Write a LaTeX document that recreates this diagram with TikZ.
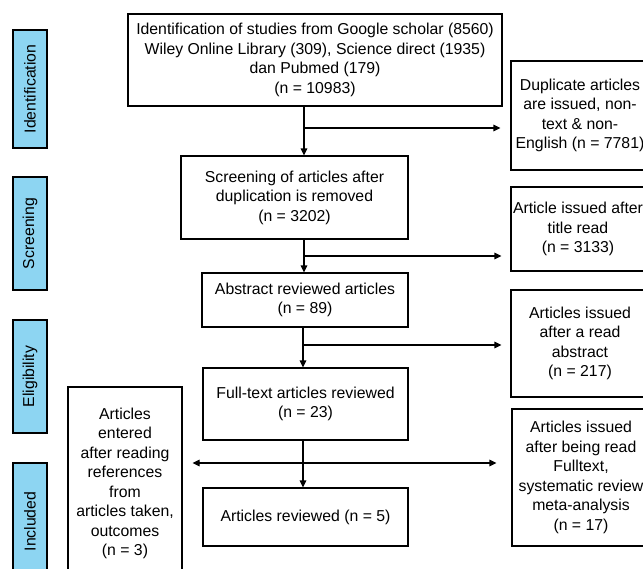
\documentclass[tikz,border=0pt]{standalone}
\usepackage{fontspec}
\setmainfont{Liberation Sans}
\usetikzlibrary{arrows.meta}

\definecolor{stageblue}{HTML}{8DD5F2}

\tikzset{
    box/.style={draw, line width=1.1pt, align=center, inner sep=0pt,
        font=\fontsize{15.8}{19.5}\selectfont},
    stage/.style={draw, line width=1.1pt, fill=stageblue, rotate=90,
        minimum height=34, inner sep=0pt, font=\fontsize{15.8}{19}\selectfont},
    flow/.style={line width=1.1pt, -{Triangle[length=7pt,width=6.5pt]}},
    both/.style={line width=1.1pt, {Triangle[length=7pt,width=6.5pt]}-{Triangle[length=7pt,width=6.5pt]}}
}

\begin{document}
\begin{tikzpicture}[x=1pt, y=-1pt]
    \useasboundingbox (0,0) rectangle (643,568);

    % Stages
    \node[stage, minimum width=118] (sId) at (30,89) {Identification};
    \node[stage, minimum width=113] (sScr) at (30,233.5) {Screening};
    \node[stage, minimum width=113] (sElig) at (30,376.5) {Eligibility};
    \node[stage, minimum width=117] (sIncl) at (30,521.5) {Included};

    % Main flow
    \node[box, minimum width=374, minimum height=92] (ident) at (315,60)
        {Identification of studies from Google scholar (8560)\\
         Wiley Online Library (309), Science direct (1935)\\
         dan Pubmed (179)\\(n = 10983)};
    \node[box, minimum width=227, minimum height=83] (scr) at (294.5,197.5)
        {Screening of articles after\\duplication is removed\\(n = 3202)};
    \node[box, minimum width=206, minimum height=54] (abs) at (305,300)
        {Abstract reviewed articles\\(n = 89)};
    \node[box, minimum width=205, minimum height=72] (full) at (305.5,404)
        {Full-text articles reviewed\\(n = 23)};
    \node[box, minimum width=205, minimum height=58] (incl) at (305.5,517)
        {Articles reviewed (n = 5)};

    % Excluded
    \node[box, minimum width=138, minimum height=109] (dup) at (580,115.5)
        {Duplicate articles\\are issued, non-\\text \& non-\\English (n = 7781)};
    \node[box, minimum width=134, minimum height=84] (title) at (578,229)
        {Article issued after\\title read\\(n = 3133)};
    \node[box, minimum width=138, minimum height=107] (absx) at (580,343.5)
        {Articles issued\\after a read\\abstract\\(n = 217)};
    \node[box, minimum width=138, minimum height=137] (fullx) at (581,477.5)
        {Articles issued\\after being read\\Fulltext,\\systematic review\\meta-analysis\\(n = 17)};

    % Added
    \node[box, minimum width=114, minimum height=193] (refs) at (125,483.5)
        {Articles\\entered\\after reading\\references\\from\\articles taken,\\outcomes\\(n = 3)};

    % Connectors
    \coordinate (spine) at (304,0);
    \coordinate (b1) at (304,128);
    \coordinate (b2) at (304,256);
    \coordinate (b3) at (303,345);
    \coordinate (b4) at (303,463);

    \draw[flow] (ident.south -| spine) -- (scr.north -| spine);
    \draw[flow] (b1) -- ([xshift=-10pt]b1 -| dup.west);
    \draw[flow] (scr.south -| spine) -- (abs.north -| spine);
    \draw[flow] (b2) -- ([xshift=-9pt]b2 -| title.west);
    \draw[flow] (abs.south -| b3) -- (full.north -| b3);
    \draw[flow] (b3) -- ([xshift=-9pt]b3 -| absx.west);
    \draw[flow] (full.south -| b4) -- (incl.north -| b4);
    \draw[both] ([xshift=10pt]b4 -| refs.east) -- ([xshift=-15pt]b4 -| fullx.west);
\end{tikzpicture}
\end{document}
